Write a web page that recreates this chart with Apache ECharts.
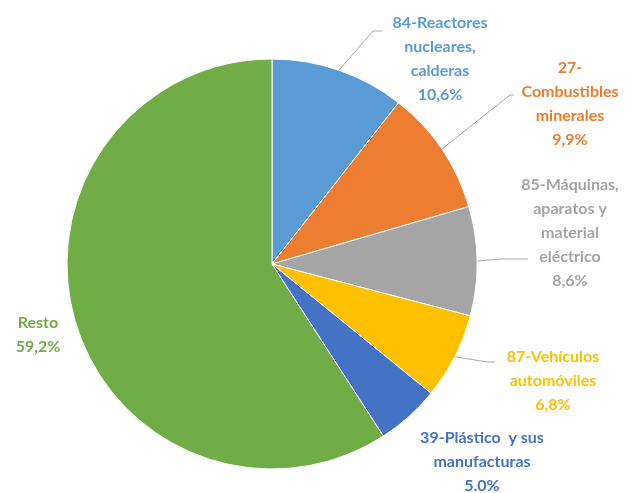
<!DOCTYPE html>
<html>
<head>
<meta charset="utf-8">
<script src="https://cdn.jsdelivr.net/npm/echarts@6/dist/echarts.min.js"></script>
<style>
  html, body { margin: 0; padding: 0; background: #fff; }
  #main { width: 635px; height: 493px; }
</style>
</head>
<body>
<div id="main"></div>
<script>
// slice names (with label line breaks) and shares in %
const names = [
  "84-Reactores\nnucleares,\ncalderas",
  "27-\nCombustibles\nminerales",
  "85-Máquinas,\naparatos y\nmaterial\neléctrico",
  "87-Vehículos\nautomóviles",
  "39-Plástico  y sus\nmanufacturas",
  "Resto"
];
const values = [10.6, 9.9, 8.6, 6.8, 5.0, 59.2];
const valueText = ["10,6%", "9,9%", "8,6%", "6,8%", "5.0%", "59,2%"];

const colors = ["#5B9BD5", "#ED7D31", "#A5A5A5", "#FFC000", "#4472C4", "#70AD47"];
const showLine = [true, true, true, true, false, false];
// label centres (x, y) in pixels
const labelPos = [[440, 59], [570, 104], [570, 233], [553, 381], [482, 462], [38, 335]];
// leader line elbow + end points (the start is taken on the slice edge)
const lineBends = [
  [[373, 31], [382, 31]],
  [[510, 95], [514, 95]],
  [[500, 259], [528, 259]],
  [[487, 362], [495, 362]],
  null,
  null
];

const center = [272, 264];
const radius = 205;
const total = values.reduce((a, b) => a + b, 0);

function edgePoint(i) {
  let before = 0;
  for (let k = 0; k < i; k++) before += values[k];
  const ang = ((before + values[i] / 2) / total) * Math.PI * 2;
  return [center[0] + radius * Math.sin(ang), center[1] - radius * Math.cos(ang)];
}

const chart = echarts.init(document.getElementById("main"));

const option = {
  animation: false,
  series: [
    {
      type: "pie",
      center: center,
      radius: radius,
      startAngle: 90,
      clockwise: true,
      itemStyle: { borderColor: "#fff", borderWidth: 1 },
      label: {
        show: true,
        position: "outside",
        fontFamily: "Lato",
        fontWeight: "bold",
        fontSize: 16,
        lineHeight: 24,
        align: "center",
        formatter: (p) => names[p.dataIndex] + "\n" + valueText[p.dataIndex]
      },
      labelLine: {
        show: true,
        lineStyle: { color: "#A6A6A6", width: 1 }
      },
      labelLayout: function (params) {
        const i = params.dataIndex;
        const pos = labelPos[i];
        const out = { x: pos[0], y: pos[1], align: "center", verticalAlign: "middle" };
        if (lineBends[i]) {
          out.labelLinePoints = [edgePoint(i), lineBends[i][0], lineBends[i][1]];
        }
        return out;
      },
      data: values.map((v, i) => ({
        name: names[i],
        value: v,
        itemStyle: { color: colors[i] },
        label: showLine[i]
          ? { color: colors[i] }
          : { color: colors[i], position: "inside" },
        labelLine: { show: showLine[i] }
      }))
    }
  ]
};

chart.setOption(option);
</script>
</body>
</html>
